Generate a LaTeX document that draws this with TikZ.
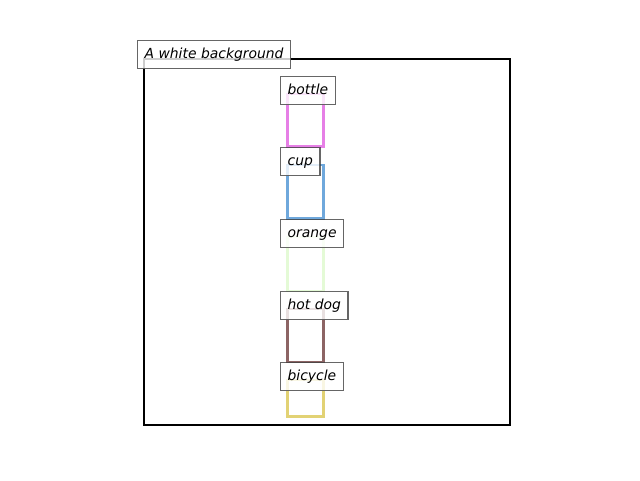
\documentclass[tikz,border=0pt]{standalone}
\usepackage{fontspec}
\setmainfont{DejaVu Sans}
\definecolor{cbottle}{HTML}{E67FE6}
\definecolor{ccup}{HTML}{6FA8DC}
\definecolor{corange}{HTML}{E4FAD6}
\definecolor{chotdog}{HTML}{8C6464}
\definecolor{cbicycle}{HTML}{E2D274}
\begin{document}
\begin{tikzpicture}[x=1pt,y=-1pt,
  frame/.style={draw=black, line width=2.2pt},
  objbox/.style={draw=#1, line width=2.7pt},
  tag/.style={draw=black!75, fill=white, fill opacity=0.8, draw opacity=0.8,
    text opacity=1, line width=1.3pt, anchor=north west,
    inner xsep=7pt, inner ysep=7pt, text height=11pt, text depth=3pt,
    font=\fontsize{13.9}{16}\selectfont\itshape}]
\useasboundingbox (0,0) rectangle (640,480);

% image frame
\draw[frame] (144,59) rectangle (510,425);

% object boxes
\draw[objbox=cbottle]  (287.3,94)  rectangle (323.3,146.5);
\draw[objbox=ccup]     (287.3,165) rectangle (323.3,218.5);
\draw[objbox=corange]  (287.3,237) rectangle (323.3,291);
\draw[objbox=chotdog]  (287.3,309) rectangle (323.3,362);
\draw[objbox=cbicycle] (287.3,380) rectangle (323.3,416.5);

% labels
\node[tag] (title)   at (137,40)  {A white background};
\node[tag] (bottle)  at (280,76)  {bottle};
\node[tag] (cup)     at (280,147) {cup};
\node[tag] (orange)  at (280,219) {orange};
\node[tag] (hotdog)  at (280,291) {hot dog};
\node[tag] (bicycle) at (280,362) {bicycle};
\end{tikzpicture}
\end{document}
